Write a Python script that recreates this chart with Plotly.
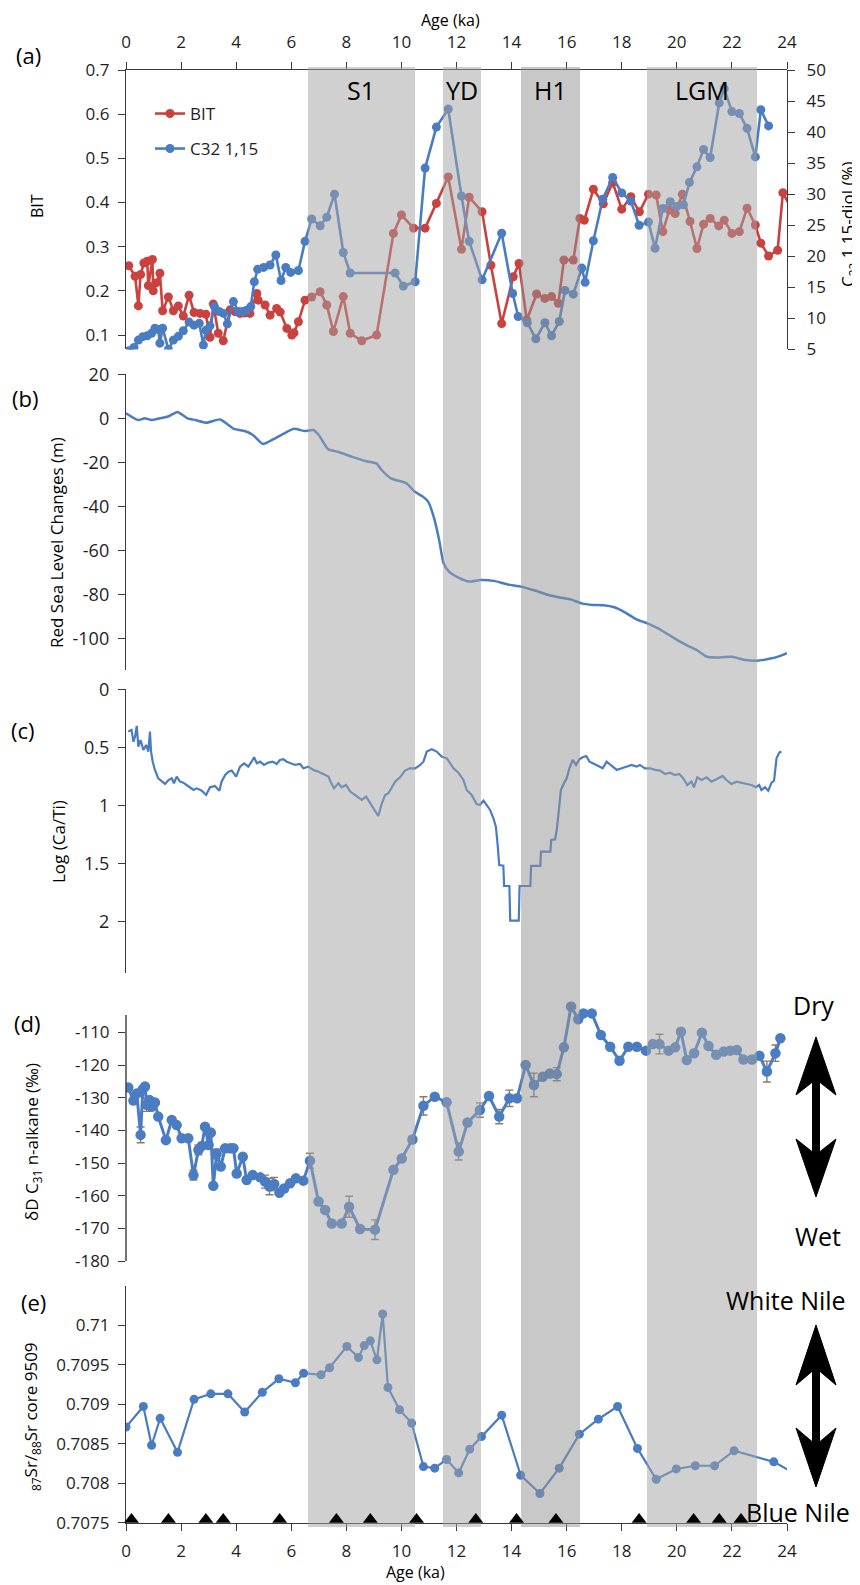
import plotly.graph_objects as go

OFF = 8                      # page body margin of the generated html
PW, PH = 860, 1585           # page size
W, H = PW - OFF, PH - OFF    # figure size
X0, X24 = 126, 787           # page x of age 0 and 24
ML = X0 - OFF
MR = W - (X24 - OFF)
FONT = "Open Sans, Noto Sans, DejaVu Sans, sans-serif"
RED = "#C9423F"
BLUE = "#4A7CC2"
AXC = "#3a3a3a"
TXT = "#1e1e1e"

# ---------------- data ----------------
AGE_TICKS = list(range(0, 25, 2))

BIT_AGE = [0.1, 0.33, 0.45, 0.53, 0.65, 0.77, 0.81, 0.96, 0.99, 1.09, 1.23, 1.33, 1.54, 1.72, 1.90, 2.08,
           2.29, 2.47, 2.69, 2.90, 3.05, 3.17, 3.35, 3.53, 3.78, 3.96, 4.14, 4.30, 4.50, 4.75, 4.80, 5.05,
           5.23, 5.47, 5.60, 5.84, 6.02, 6.10, 6.26, 6.50, 6.74, 7.05, 7.29, 7.53, 7.89, 8.14, 8.56, 9.10,
           9.71, 10.00, 10.44, 10.86, 11.27, 11.70, 12.18, 12.46, 12.93, 13.25, 13.64, 14.06, 14.27, 14.55,
           14.91, 15.21, 15.45, 15.70, 15.90, 16.24, 16.48, 16.64, 16.97, 17.33, 17.67, 18.00, 18.33, 18.64,
           18.97, 19.25, 19.49, 19.73, 19.94, 20.20, 20.48, 20.73, 20.97, 21.21, 21.52, 21.72, 22.00, 22.27,
           22.55, 22.85, 23.05, 23.33, 23.66, 23.85, 24.30]
BIT_VAL = [0.257, 0.233, 0.166, 0.237, 0.263, 0.267, 0.212, 0.271, 0.200, 0.218, 0.240, 0.155, 0.186, 0.155,
           0.166, 0.143, 0.190, 0.151, 0.149, 0.147, 0.095, 0.170, 0.104, 0.087, 0.157, 0.153, 0.149, 0.150,
           0.149, 0.194, 0.179, 0.168, 0.145, 0.160, 0.152, 0.115, 0.100, 0.105, 0.130, 0.179, 0.186, 0.198,
           0.168, 0.108, 0.187, 0.104, 0.087, 0.100, 0.330, 0.372, 0.342, 0.342, 0.398, 0.458, 0.294, 0.412,
           0.379, 0.258, 0.126, 0.232, 0.262, 0.134, 0.193, 0.183, 0.187, 0.172, 0.270, 0.270, 0.364, 0.360,
           0.430, 0.397, 0.445, 0.385, 0.413, 0.379, 0.419, 0.417, 0.334, 0.383, 0.375, 0.419, 0.357, 0.296,
           0.351, 0.364, 0.347, 0.360, 0.330, 0.334, 0.387, 0.349, 0.308, 0.279, 0.292, 0.422, 0.370]

C32_AGE = [0.10, 0.29, 0.45, 0.61, 0.77, 0.93, 1.05, 1.17, 1.23, 1.33, 1.54, 1.72, 1.90, 2.08, 2.29, 2.47,
           2.66, 2.81, 2.90, 3.05, 3.21, 3.38, 3.54, 3.68, 3.90, 4.08, 4.24, 4.38, 4.53, 4.66, 4.78, 5.00,
           5.23, 5.44, 5.63, 5.80, 5.98, 6.26, 6.50, 6.74, 7.05, 7.29, 7.57, 7.89, 8.14, 9.77, 10.07, 10.50,
           10.86, 11.27, 11.70, 12.18, 12.46, 12.93, 13.64, 14.04, 14.24, 14.57, 14.88, 15.21, 15.45, 15.73,
           15.94, 16.24, 16.55, 16.67, 16.97, 17.31, 17.67, 18.00, 18.33, 18.63, 18.97, 19.21, 19.49, 19.76,
           20.00, 20.24, 20.46, 20.73, 20.97, 21.21, 21.54, 21.72, 22.00, 22.27, 22.55, 22.85, 23.05, 23.33]
C32_VAL = [4.8, 5.3, 6.5, 7.05, 7.2, 7.6, 8.4, 8.2, 6.0, 8.4, 5.0, 6.5, 7.1, 8.0, 9.4, 8.9,
           9.2, 5.7, 8.1, 8.8, 11.9, 11.1, 10.8, 9.1, 12.7, 11.1, 11.1, 11.3, 11.9, 15.9, 17.9, 18.2,
           18.6, 20.2, 16.1, 18.2, 17.4, 17.7, 22.4, 26.0, 24.9, 26.3, 30.0, 20.6, 17.3, 17.3, 15.2, 15.9,
           34.2, 40.8, 43.7, 29.7, 22.4, 16.2, 23.7, 14.0, 10.3, 9.3, 6.7, 9.3, 7.2, 9.5,
           14.5, 13.9, 18.1, 15.8, 22.5, 29.2, 32.7, 30.2, 28.9, 25.0, 25.5, 21.3, 27.7, 28.8,
           28.0, 28.3, 31.9, 34.4, 37.2, 35.9, 44.7, 47.0, 43.3, 43.0, 40.6, 36.0, 43.6, 41.0]

SL_AGE = [0.0, 0.44, 0.68, 0.93, 1.23, 1.53, 1.87, 2.23, 2.52, 2.92, 3.42, 3.92, 4.31, 4.61, 4.97, 5.31,
          5.71, 6.10, 6.50, 6.80, 7.00, 7.34, 7.69, 8.19, 8.69, 9.09, 9.28, 9.62, 10.18, 10.48, 10.78, 10.97,
          11.17, 11.37, 11.53, 11.73, 12.07, 12.47, 12.86, 13.36, 13.86, 14.35, 14.85, 15.35, 15.75, 16.14,
          16.54, 16.94, 17.34, 17.73, 18.13, 18.53, 18.93, 19.32, 19.72, 20.12, 20.42, 20.72, 21.1, 21.4,
          22.0, 22.5, 22.9, 23.4, 23.7, 24.0]
SL_VAL = [2.3, -0.8, 0.0, -0.8, 0.0, 0.8, 2.9, 0.0, -0.8, -2.0, -0.5, -4.8, -5.8, -7.6, -11.7, -9.8,
          -7.1, -4.8, -5.8, -5.3, -7.6, -14.1, -15.2, -17.4, -19.4, -20.5, -23.5, -27.3, -29.5, -33.3, -35.6, -37.9,
          -44.7, -55.3, -65.9, -69.7, -72.4, -74.2, -73.5, -73.9, -75.5, -76.5, -78.3, -80.3, -81.4, -82.3,
          -84.1, -84.8, -85.0, -85.9, -88.3, -91.4, -93.2, -95.5, -98.5, -101.5, -103.5, -105.3, -108.4, -108.7,
          -108.4, -109.9, -110.2, -109.2, -108.2, -106.7]

CATI_AGE = [0.08, 0.20, 0.27, 0.33, 0.39, 0.45, 0.53, 0.63, 0.73, 0.81, 0.87, 0.91, 0.97, 1.05, 1.17, 1.30,
            1.42, 1.54, 1.66, 1.74, 1.84, 1.96, 2.08, 2.20, 2.32, 2.45, 2.57, 2.75, 2.91, 3.05, 3.23, 3.39,
            3.47, 3.60, 3.72, 3.84, 4.00, 4.14, 4.29, 4.44, 4.56, 4.65, 4.75, 4.87, 5.01, 5.17, 5.33, 5.47,
            5.59, 5.71, 5.84, 5.98, 6.14, 6.32, 6.44, 6.62, 6.80, 6.99, 7.17, 7.35, 7.43, 7.55, 7.71, 7.83,
            7.99, 8.14, 8.26, 8.40, 8.56, 8.72, 8.86, 9.01, 9.16, 9.29, 9.41, 9.53, 9.65, 9.77, 9.95, 10.13,
            10.31, 10.50, 10.68, 10.80, 10.92, 11.10, 11.28, 11.46, 11.65, 11.89, 12.07, 12.25, 12.37, 12.55,
            12.73, 12.85, 12.98, 13.10, 13.22, 13.34, 13.43, 13.50, 13.55, 13.70, 13.73, 13.92, 13.95, 14.26,
            14.29, 14.68, 14.71, 15.04, 15.07, 15.41, 15.44, 15.58, 15.64, 15.73, 15.79, 15.90, 16.00, 16.10,
            16.22, 16.34, 16.46, 16.58, 16.71, 16.83, 16.97, 17.15, 17.31, 17.45, 17.64, 17.82, 18.00, 18.18,
            18.36, 18.54, 18.66, 18.84, 19.03, 19.21, 19.39, 19.57, 19.75, 19.93, 20.09, 20.23, 20.38, 20.53,
            20.62, 20.74, 20.90, 21.08, 21.26, 21.44, 21.66, 21.80, 21.98, 22.17, 22.35, 22.53, 22.71, 22.87,
            22.99, 23.07, 23.20, 23.32, 23.44, 23.53, 23.62, 23.72, 23.80]
CATI_VAL = [0.365, 0.350, 0.452, 0.408, 0.316, 0.494, 0.437, 0.523, 0.480, 0.537, 0.365, 0.537, 0.624, 0.695,
            0.767, 0.796, 0.816, 0.782, 0.767, 0.810, 0.753, 0.796, 0.805, 0.825, 0.845, 0.868, 0.854, 0.874,
            0.911, 0.845, 0.834, 0.874, 0.796, 0.739, 0.710, 0.701, 0.753, 0.667, 0.638, 0.667, 0.624, 0.586,
            0.638, 0.624, 0.652, 0.632, 0.624, 0.644, 0.609, 0.603, 0.624, 0.638, 0.652, 0.644, 0.681, 0.667,
            0.695, 0.710, 0.730, 0.753, 0.796, 0.854, 0.810, 0.845, 0.825, 0.882, 0.902, 0.925, 0.954, 0.925,
            0.977, 1.026, 1.092, 0.983, 0.911, 0.896, 0.839, 0.796, 0.759, 0.701, 0.681, 0.681, 0.652, 0.624,
            0.537, 0.517, 0.537, 0.580, 0.595, 0.681, 0.719, 0.782, 0.868, 0.911, 0.989, 0.997, 0.960, 1.006,
            1.040, 1.112, 1.184, 1.356, 1.515, 1.520, 1.696, 1.696, 1.994, 1.994, 1.696, 1.696, 1.523, 1.523,
            1.400, 1.400, 1.299, 1.293, 1.213, 1.011, 0.868, 0.810, 0.767, 0.681, 0.609, 0.652, 0.604, 0.586,
            0.575, 0.624, 0.638, 0.661, 0.681, 0.624, 0.661, 0.695, 0.681, 0.667, 0.652, 0.667, 0.652, 0.681,
            0.681, 0.695, 0.701, 0.730, 0.719, 0.739, 0.730, 0.767, 0.825, 0.796, 0.845, 0.759, 0.782, 0.759,
            0.796, 0.776, 0.747, 0.782, 0.816, 0.796, 0.805, 0.816, 0.825, 0.845, 0.825, 0.868, 0.845, 0.874,
            0.805, 0.788, 0.595, 0.546, 0.537]

DD_AGE = [0.08, 0.27, 0.39, 0.53, 0.61, 0.69, 0.75, 0.85, 0.93, 1.05, 1.17, 1.45, 1.66, 1.84, 2.02, 2.26,
          2.45, 2.63, 2.75, 2.87, 3.00, 3.08, 3.17, 3.29, 3.44, 3.60, 3.78, 3.90, 4.02, 4.24, 4.38, 4.60,
          4.87, 5.05, 5.21, 5.38, 5.57, 5.74, 5.96, 6.17, 6.44, 6.68, 6.99, 7.23, 7.47, 7.83, 8.10, 8.50,
          9.04, 9.71, 10.01, 10.40, 10.80, 11.21, 11.64, 12.08, 12.40, 12.85, 13.18, 13.55, 13.92, 14.20,
          14.51, 14.81, 15.13, 15.39, 15.64, 15.90, 16.16, 16.42, 16.61, 16.91, 17.24, 17.58, 17.92, 18.24,
          18.55, 18.88, 19.13, 19.37, 19.70, 19.94, 20.15, 20.36, 20.63, 20.91, 21.15, 21.43, 21.70, 21.94,
          22.18, 22.42, 22.73, 23.00, 23.27, 23.58, 23.76]
DD_VAL = [-126.9, -130.9, -128.7, -141.4, -127.4, -126.6, -132.2, -130.7, -132.8, -131.5, -135.8, -143.0,
          -136.8, -138.4, -142.4, -142.4, -153.7, -146.0, -144.8, -138.9, -144.5, -140.7, -157.0, -147.2,
          -151.1, -145.5, -145.5, -145.5, -153.2, -148.1, -155.2, -153.7, -154.4, -155.7, -157.2, -156.4,
          -159.1, -157.8, -156.2, -154.7, -155.4, -149.3, -161.8, -164.4, -168.5, -168.5, -163.4, -170.2,
          -170.4, -152.1, -148.6, -142.8, -132.5, -129.7, -131.4, -146.5, -137.6, -133.8, -129.5, -135.8,
          -130.2, -130.2, -120.0, -126.1, -123.6, -122.6, -122.8, -114.6, -102.1, -106.0, -104.2, -104.2,
          -110.8, -114.4, -118.7, -114.4, -114.4, -115.6, -113.6, -113.6, -115.6, -114.6, -109.8, -118.5,
          -116.4, -110.1, -114.2, -116.9, -115.9, -115.6, -115.4, -118.3, -118.3, -117.2, -122.0, -116.4,
          -111.8]
DD_ERR = [0, 0, 0, 2.4, 0, 0, 2.0, 0, 0, 0, 0, 0, 0, 0, 0, 0,
          1.5, 1.5, 0, 0, 0, 0, 0, 1.5, 0, 0, 0, 0, 0, 0, 0, 0,
          0, 2.0, 2.5, 2.0, 0, 0, 0, 0, 0, 2.3, 0, 0, 0, 0, 3.2, 0,
          3.0, 0, 0, 0, 2.8, 0, 0, 2.6, 0, 2.2, 0, 2.2, 2.5, 0,
          0, 3.6, 0, 0, 2.0, 0, 0, 0, 0, 0, 0, 0, 0, 0,
          0, 0, 0, 3.0, 0, 0, 0, 0, 0, 0, 0, 0, 0, 0,
          0, 0, 0, 0, 3.2, 2.5, 0]

SR_AGE = [0.0, 0.63, 0.93, 1.24, 1.87, 2.47, 3.08, 3.70, 4.31, 4.95, 5.55, 6.15, 6.45, 7.08, 7.39, 8.02,
          8.44, 8.65, 8.87, 9.11, 9.32, 9.51, 9.93, 10.37, 10.80, 11.21, 11.64, 12.08, 12.48, 12.91, 13.64,
          14.33, 15.03, 15.73, 16.46, 17.15, 17.85, 18.57, 19.25, 19.98, 20.67, 21.37, 22.08, 23.52, 24.40]
SR_VAL = [0.70871, 0.70897, 0.70848, 0.70882, 0.70839, 0.70906, 0.70913, 0.70913, 0.70890, 0.70915, 0.70932,
          0.70927, 0.70939, 0.70937, 0.70946, 0.70973, 0.70959, 0.70974, 0.70980, 0.70956, 0.71014, 0.70921,
          0.70893, 0.70876, 0.70821, 0.70819, 0.70830, 0.70813, 0.70843, 0.70859, 0.70886, 0.70810, 0.70787,
          0.70819, 0.70862, 0.70881, 0.70897, 0.70844, 0.70805, 0.70818, 0.70822, 0.70822, 0.70841, 0.70827,
          0.70810]

DATE_AGE = [0.2, 1.54, 2.9, 3.53, 5.58, 7.64, 8.87, 10.55, 12.7, 14.18, 15.61, 18.63, 20.61, 21.54, 22.33]

BAND_START = [6.6, 11.5, 14.35, 18.9]
BAND_END = [10.5, 12.9, 16.5, 22.9]
BAND_LABEL = ["S1", "YD", "H1", "LGM"]
BAND_GRAY = ["rgba(162,162,162,0.5)", "rgba(162,162,162,0.5)", "rgba(146,146,146,0.5)", "rgba(162,162,162,0.5)"]

BIT_TICKS = [0.1, 0.2, 0.3, 0.4, 0.5, 0.6, 0.7]
C32_TICKS = [5, 10, 15, 20, 25, 30, 35, 40, 45, 50]
SL_TICKS = [20, 0, -20, -40, -60, -80, -100]
CATI_TICKS = [0, 0.5, 1, 1.5, 2]
DD_TICKS = [-110, -120, -130, -140, -150, -160, -170, -180]
SR_TICKS = [0.7075, 0.708, 0.7085, 0.709, 0.7095, 0.71]

BIT_RANGE = [0.0675, 0.7]
C32_RANGE = [5, 50]
SL_RANGE = [-114.4, 20]
CATI_RANGE = [2.446, 0]
DD_RANGE = [-180, -100.5]
DD_AXIS_TOP = -104.7
SR_RANGE = [0.7075, 0.71049]


# ---------------- helpers (page pixel -> paper) ----------------
def px(fx):
    return (fx - X0) / (X24 - X0)


def py(fy):
    return 1 - (fy - OFF) / H


def fmt(v):
    return ("%.4f" % v).rstrip("0").rstrip(".")


DOM_A = [py(349.4), py(70)]
DOM_B = [py(670), py(374.3)]
DOM_C = [py(973), py(689.3)]
DOM_D = [py(1261), py(1001.3)]
DOM_E = [py(1522.7), py(1286.3)]
DOM_BAND = [py(1527), py(67)]

tickfont = dict(family=FONT, size=17, color=TXT)


def yax(dom, rng, ticks, anchor, side="left", size=17, line=True, standoff=5):
    return dict(domain=dom, range=rng, anchor=anchor, side=side, tickmode="array", tickvals=ticks,
                ticktext=[fmt(t) for t in ticks], ticks="outside", ticklen=7, tickwidth=1.4, tickcolor=AXC,
                showline=line, linecolor=AXC, linewidth=1.4, showgrid=False, zeroline=False, automargin=False,
                tickfont=dict(family=FONT, size=size, color=TXT), ticklabelstandoff=standoff, fixedrange=True)


def hidden_x(anchor):
    return dict(domain=[0, 1], range=[0, 24], anchor=anchor, visible=False, fixedrange=True, automargin=False)


fig = go.Figure()

# panel (a)
fig.add_trace(go.Scatter(x=BIT_AGE, y=BIT_VAL, mode="lines+markers", name="BIT",
                         line=dict(color=RED, width=2.6), marker=dict(color=RED, size=9),
                         xaxis="x", yaxis="y", legend="legend"))
fig.add_trace(go.Scatter(x=C32_AGE, y=C32_VAL, mode="lines+markers", name="C32 1,15",
                         line=dict(color=BLUE, width=2.6), marker=dict(color=BLUE, size=9),
                         xaxis="x", yaxis="y2", legend="legend2"))
# panel (b)
fig.add_trace(go.Scatter(x=SL_AGE, y=SL_VAL, mode="lines", line=dict(color=BLUE, width=2.5, shape="spline",
                         smoothing=0.5), xaxis="x2", yaxis="y3", showlegend=False))
# panel (c)
fig.add_trace(go.Scatter(x=CATI_AGE, y=CATI_VAL, mode="lines", line=dict(color=BLUE, width=2.2),
                         xaxis="x3", yaxis="y4", showlegend=False))
# panel (d)
fig.add_trace(go.Scatter(x=DD_AGE, y=DD_VAL, mode="lines+markers", line=dict(color=BLUE, width=3),
                         marker=dict(color=BLUE, size=10.5),
                         error_y=dict(type="data", array=[e if e > 0 else None for e in DD_ERR], visible=True,
                                      color="#8a7a6c", thickness=1.4, width=4),
                         xaxis="x4", yaxis="y5", showlegend=False))
# panel (e)
fig.add_trace(go.Scatter(x=SR_AGE, y=SR_VAL, mode="lines+markers", line=dict(color=BLUE, width=2.2),
                         marker=dict(color=BLUE, size=9), xaxis="x5", yaxis="y6", showlegend=False))

# shaded intervals (overlay)
fig.add_trace(go.Bar(x=[(s + e) / 2 for s, e in zip(BAND_START, BAND_END)], y=[1] * len(BAND_START),
                     base=0, width=[e - s for s, e in zip(BAND_START, BAND_END)],
                     marker=dict(color=BAND_GRAY, line=dict(width=0)), xaxis="x6", yaxis="y7",
                     showlegend=False, hoverinfo="skip"))

# dating points (triangles) on top
TRI_SIZE = 13
e_px = (DOM_E[1] - DOM_E[0]) * H
shift = (TRI_SIZE / 4) * (SR_RANGE[1] - SR_RANGE[0]) / e_px
fig.add_trace(go.Scatter(x=DATE_AGE, y=[SR_RANGE[0]] * len(DATE_AGE), mode="markers",
                         marker=dict(symbol="triangle-up", size=TRI_SIZE, color="black"),
                         cliponaxis=False, xaxis="x7", yaxis="y8", showlegend=False))

layout = dict(
    width=W, height=H, margin=dict(l=ML, r=MR, t=0, b=0, pad=0, autoexpand=False),
    paper_bgcolor="white", plot_bgcolor="rgba(0,0,0,0)",
    font=dict(family=FONT, color=TXT),
    showlegend=True,
    xaxis=dict(domain=[0, 1], range=[0, 24], anchor="y", side="top", tickmode="array", tickvals=AGE_TICKS,
               ticks="outside", ticklen=7, tickwidth=1.4, tickcolor=AXC, showline=True, linecolor=AXC,
               linewidth=1.4, showgrid=False, zeroline=False, tickfont=tickfont, ticklabelstandoff=7,
               fixedrange=True, automargin=False),
    yaxis=yax(DOM_A, BIT_RANGE, BIT_TICKS, "x"),
    yaxis2=yax(DOM_A, C32_RANGE, C32_TICKS, "x", side="right", standoff=8),
    xaxis2=hidden_x("y3"),
    yaxis3=yax(DOM_B, SL_RANGE, SL_TICKS, "x2", size=18),
    xaxis3=hidden_x("y4"),
    yaxis4=yax(DOM_C, CATI_RANGE, CATI_TICKS, "x3", size=18),
    xaxis4=hidden_x("y5"),
    yaxis5=yax(DOM_D, DD_RANGE, DD_TICKS, "x4", line=False),
    xaxis5=dict(domain=[0, 1], range=[0, 24], anchor="y6", side="bottom", tickmode="array", tickvals=AGE_TICKS,
                ticks="outside", ticklen=7, tickwidth=1.4, tickcolor=AXC, showline=True, linecolor=AXC,
                linewidth=1.4, showgrid=False, zeroline=False, tickfont=tickfont, ticklabelstandoff=6,
                fixedrange=True, automargin=False),
    yaxis6=yax(DOM_E, SR_RANGE, SR_TICKS, "x5"),
    xaxis6=hidden_x("y7"),
    yaxis7=dict(domain=DOM_BAND, range=[0, 1], anchor="x6", visible=False, fixedrange=True, automargin=False),
    xaxis7=hidden_x("y8"),
    yaxis8=dict(domain=DOM_E, range=[SR_RANGE[0] - shift, SR_RANGE[1] - shift], anchor="x7", visible=False,
                fixedrange=True, automargin=False),
    legend=dict(x=px(150), y=py(114), xanchor="left", yanchor="middle", bgcolor="rgba(0,0,0,0)",
                font=dict(family=FONT, size=17, color=TXT), itemwidth=30),
    legend2=dict(x=px(150), y=py(149), xanchor="left", yanchor="middle", bgcolor="rgba(0,0,0,0)",
                 font=dict(family=FONT, size=17, color=TXT), itemwidth=30),
    bargap=0,
)
fig.update_layout(**layout)

ann = []


def text(fx, fy, s, size, angle=0, xanchor="center", yanchor="middle"):
    ann.append(dict(x=px(fx), y=py(fy), xref="paper", yref="paper", text=s, showarrow=False,
                    font=dict(family=FONT, size=size, color="black"), textangle=angle,
                    xanchor=xanchor, yanchor=yanchor, borderpad=0))


# panel letters
text(28, 55, "(a)", 22)
text(25, 398, "(b)", 22)
text(23, 730, "(c)", 22)
text(27, 1023, "(d)", 22)
text(33, 1302, "(e)", 22)
# axis titles
text(450, OFF, "Age (ka)", 16, yanchor="top")
text(415, 1572, "Age (ka)", 16)
text(37, 206, "BIT", 16, -90)
text(848, 225, "C<sub>32</sub> 1,15-diol (%)", 17, -90)
text(56, 543, "Red Sea Level Changes (m)", 17, -90)
text(58, 842, "Log (Ca/Ti)", 17, -90)
text(32, 1142, "δD C<sub>31</sub> n-alkane (‰)", 17, -90)
text(31, 1417, "<sub>87</sub>Sr/<sub>88</sub>Sr core 9509", 17, -90)
# side labels
text(813, 1005, "Dry", 25)
text(818, 1236, "Wet", 25)
text(786, 1300, "White Nile", 25)
text(798, 1512, "Blue Nile", 25)
# band labels
for s, e, lab in zip(BAND_START, BAND_END, BAND_LABEL):
    ann.append(dict(x=(s + e) / 2, y=py(90), xref="x6", yref="paper", text=lab, showarrow=False,
                    font=dict(family=FONT, size=25, color="black"), xanchor="center", yanchor="middle"))

fig.update_layout(annotations=ann)


def arrow(cx, tip_t, wing_t, notch_t, notch_b, wing_b, tip_b, hw=20, sh=3.5):
    pts = [(cx, tip_t), (cx + hw, wing_t), (cx + sh, notch_t), (cx + sh, notch_b), (cx + hw, wing_b),
           (cx, tip_b), (cx - hw, wing_b), (cx - sh, notch_b), (cx - sh, notch_t), (cx - hw, wing_t)]
    d = "M " + " L ".join("%.5f,%.5f" % (px(x), py(y)) for x, y in pts) + " Z"
    return dict(type="path", path=d, xref="paper", yref="paper", fillcolor="black",
                line=dict(color="black", width=1))


shapes = [arrow(816, 1037, 1095, 1082, 1152, 1139, 1197),
          arrow(816, 1325, 1385, 1371, 1442, 1428, 1487),
          # left axis line of panel (d)
          dict(type="line", xref="paper", yref="y5", x0=0, x1=0, y0=DD_RANGE[0], y1=DD_AXIS_TOP,
               line=dict(color=AXC, width=1.4))]
fig.update_layout(shapes=shapes)

fig.write_html("out.html")
